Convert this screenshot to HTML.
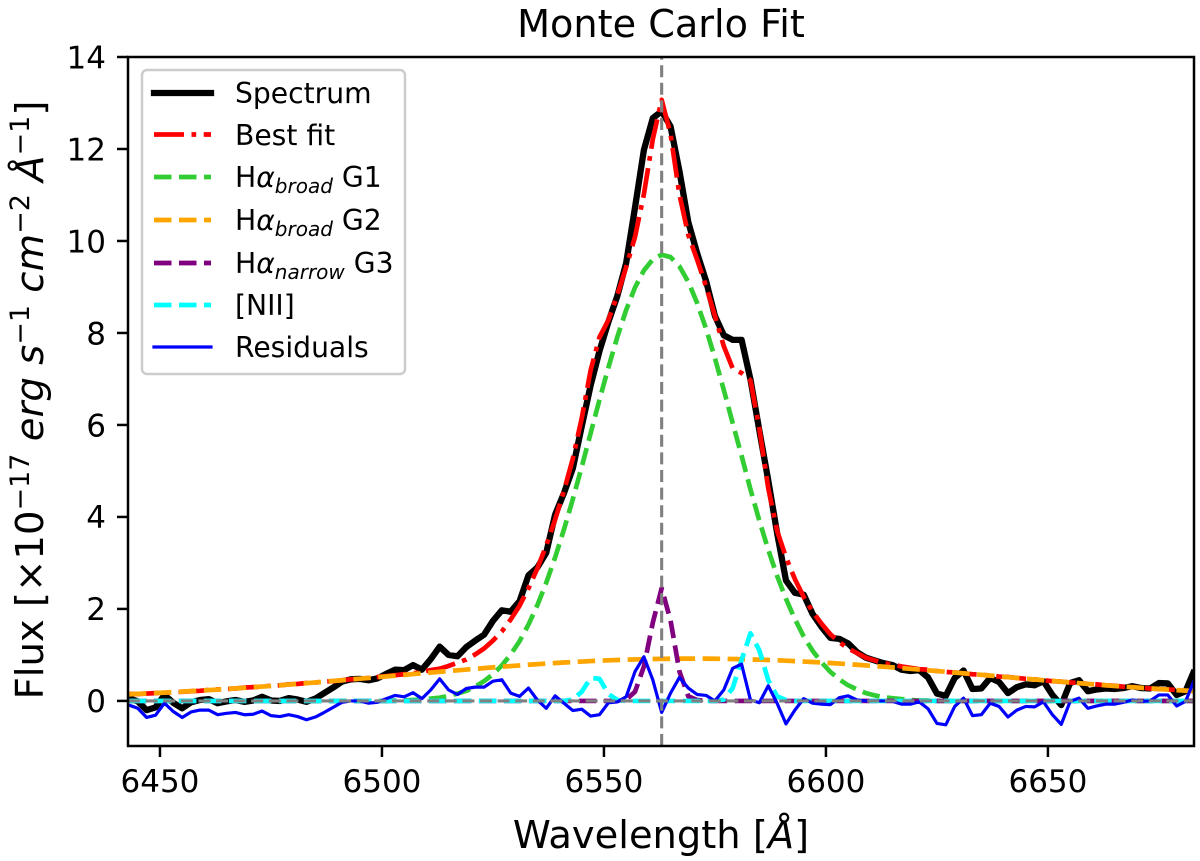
<!DOCTYPE html>
<html>
<head>
<meta charset="utf-8">
<title>Monte Carlo Fit</title>
<style>
html,body{margin:0;padding:0;background:#fff;}
svg{display:block;font-family:"DejaVu Sans","Liberation Sans",sans-serif;}
</style>
</head>
<body>
<svg id="chart" width="1200" height="861" viewBox="0 0 1200 861" xmlns="http://www.w3.org/2000/svg">
  <rect x="0" y="0" width="1200" height="861" fill="#fff"/>
  <defs><clipPath id="plot-clip"><rect x="128" y="57" width="1066" height="689"/></clipPath></defs>
  <g id="marks" clip-path="url(#plot-clip)"></g>
  <g id="ticks"></g>
  <rect x="128" y="57" width="1066" height="689" fill="none" stroke="#000" stroke-width="2.5"/>

  <text x="661" y="37" font-size="38.2" text-anchor="middle">Monte Carlo Fit</text>
  <text x="661" y="848" font-size="38.4" text-anchor="middle">Wavelength [<tspan font-style="italic">Å</tspan>]</text>
  <text transform="translate(43,400) rotate(-90)" font-size="38.6" text-anchor="middle">Flux [×10<tspan font-size="27" dy="-14">−17</tspan><tspan dy="14" font-style="italic"> erg s</tspan><tspan font-size="27" dy="-14">−1</tspan><tspan dy="14" font-style="italic"> cm</tspan><tspan font-size="27" dy="-14">−2</tspan><tspan dy="14" font-style="italic"> Å</tspan><tspan font-size="27" dy="-14">−1</tspan><tspan dy="14">]</tspan></text>

  <g>
    <rect x="142" y="70" width="263" height="304" rx="5" ry="5" fill="#fff" fill-opacity="0.8" stroke="#ccc" stroke-width="2.5"/>
    <g>
      <line x1="154" x2="211" y1="93" y2="93" stroke="#000" stroke-width="6.3" stroke-linecap="square"/>
      <text x="235" y="103" font-size="28.2">Spectrum</text>
    </g>
    <g>
      <line x1="154" x2="211" y1="134.5" y2="134.5" stroke="#f00" stroke-width="4.7" stroke-dasharray="30 7.5 4.7 7.5"/>
      <text x="235" y="145" font-size="28.2">Best fit</text>
    </g>
    <g>
      <line x1="154" x2="211" y1="177" y2="177" stroke="#32cd32" stroke-width="4.7" stroke-dasharray="17.5 7.5"/>
      <text x="235" y="187" font-size="28.2">H<tspan font-style="italic">α</tspan><tspan font-style="italic" font-size="20" dy="6">broad</tspan><tspan dy="-6"> G1</tspan></text>
    </g>
    <g>
      <line x1="154" x2="211" y1="220" y2="220" stroke="#ffa500" stroke-width="4.7" stroke-dasharray="17.5 7.5"/>
      <text x="235" y="230" font-size="28.2">H<tspan font-style="italic">α</tspan><tspan font-style="italic" font-size="20" dy="6">broad</tspan><tspan dy="-6"> G2</tspan></text>
    </g>
    <g>
      <line x1="154" x2="211" y1="263" y2="263" stroke="#800080" stroke-width="4.7" stroke-dasharray="17.5 7.5"/>
      <text x="235" y="273" font-size="28.2">H<tspan font-style="italic">α</tspan><tspan font-style="italic" font-size="20" dy="6">narrow</tspan><tspan dy="-6"> G3</tspan></text>
    </g>
    <g>
      <line x1="154" x2="211" y1="305" y2="305" stroke="#0ff" stroke-width="4.7" stroke-dasharray="17.5 7.5"/>
      <text x="235" y="315" font-size="28.2">[NII]</text>
    </g>
    <g>
      <line x1="154" x2="211" y1="347" y2="347" stroke="#00f" stroke-width="3.2" stroke-linecap="square"/>
      <text x="235" y="357" font-size="28.2">Residuals</text>
    </g>
  </g>
</svg>

<script>
const wavelength = [
6443,6445,6447,6449,6451,6453,6455,6457,6459,6461,
6463,6465,6467,6469,6471,6473,6475,6477,6479,6481,
6483,6485,6487,6489,6491,6493,6495,6497,6499,6501,
6503,6505,6507,6509,6511,6513,6515,6517,6519,6521,
6523,6525,6527,6529,6531,6533,6535,6537,6539,6541,
6543,6545,6547,6549,6551,6553,6555,6557,6559,6561,
6563,6565,6567,6569,6571,6573,6575,6577,6579,6581,
6583,6585,6587,6589,6591,6593,6595,6597,6599,6601,
6603,6605,6607,6609,6611,6613,6615,6617,6619,6621,
6623,6625,6627,6629,6631,6633,6635,6637,6639,6641,
6643,6645,6647,6649,6651,6653,6655,6657,6659,6661,
6663,6665,6667,6669,6671,6673,6675,6677,6679,6681,
6683];
const spectrum = [
.06,-.01,-.20,-.14,.13,-.04,-.16,-.03,.02,.04,
-.05,-.01,.02,-.02,.01,.09,.01,0,.06,.03,
-.02,.05,.17,.29,.42,.47,.48,.45,.49,.59,
.68,.67,.78,.68,.91,1.18,1.00,.97,1.17,1.31,
1.44,1.74,1.97,1.94,2.17,2.73,2.90,3.22,4.05,4.52,
5.06,5.97,6.86,7.61,8.24,8.80,9.52,10.73,11.98,12.67,
12.82,12.49,11.52,10.41,9.73,9.13,8.37,7.95,7.85,7.85,
6.99,5.88,4.80,3.65,2.62,2.35,2.31,1.89,1.61,1.37,
1.35,1.25,1.06,.94,.88,.82,.78,.68,.65,.67,
.51,.16,.11,.50,.66,.26,.27,.50,.41,.17,
.30,.36,.34,.43,.13,-.09,.39,.45,.21,.25,
.27,.26,.28,.32,.28,.27,.39,.38,.13,.21,
.67];
const bestFit = [
.15,.15,.16,.17,.18,.19,.20,.21,.22,.24,
.25,.26,.27,.29,.30,.31,.33,.34,.36,.37,
.39,.40,.42,.43,.45,.47,.48,.50,.52,.54,
.56,.58,.60,.63,.67,.70,.76,.83,.90,1.01,
1.14,1.31,1.51,1.77,2.07,2.45,2.88,3.38,3.94,4.57,
5.27,6.15,7.19,7.91,8.28,8.82,9.43,10.09,11.02,12.21,
13.07,12.32,11.01,10.13,9.59,9.01,8.37,7.71,7.23,7.13,
6.97,5.92,4.63,3.70,3.12,2.65,2.26,1.94,1.68,1.45,
1.28,1.14,1.04,.94,.88,.82,.79,.75,.72,.69,
.68,.65,.63,.62,.60,.58,.57,.55,.53,.52,
.50,.48,.47,.45,.43,.42,.40,.39,.37,.36,
.34,.33,.31,.30,.29,.27,.26,.25,.24,.22,
.21];
const broadG1 = [
0,0,0,0,0,0,0,0,0,0,
0,0,0,0,0,0,0,0,0,0,
0,0,0,0,0,0,0,0,0,0,
.01,.01,.02,.03,.05,.07,.11,.16,.22,.31,
.43,.58,.77,1.01,1.30,1.66,2.08,2.57,3.12,3.73,
4.39,5.09,5.82,6.55,7.25,7.91,8.50,8.99,9.36,9.60,
9.70,9.65,9.45,9.11,8.65,8.09,7.45,6.76,6.04,5.33,
4.60,3.92,3.29,2.72,2.22,1.78,1.40,1.09,.84,.63,
.47,.34,.25,.17,.12,.08,.06,.04,.02,.01,
.01,0,0,0,0,0,0,0,0,0,
0,0,0,0,0,0,0,0,0,0,
0,0,0,0,0,0,0,0,0,0,
0];
const broadG2 = [
.145,.153,.162,.171,.181,.191,.202,.213,.224,.235,
.247,.259,.272,.285,.299,.312,.326,.341,.356,.371,
.386,.402,.418,.434,.450,.466,.483,.499,.516,.533,
.550,.567,.584,.600,.617,.634,.650,.666,.682,.698,
.713,.729,.744,.758,.772,.786,.799,.812,.824,.835,
.846,.856,.866,.875,.883,.890,.897,.902,.907,.911,
.915,.917,.919,.920,.920,.919,.917,.915,.911,.907,
.902,.897,.890,.883,.875,.866,.856,.846,.835,.824,
.812,.799,.786,.772,.758,.744,.729,.713,.698,.682,
.666,.650,.634,.617,.600,.584,.567,.550,.533,.516,
.499,.483,.466,.450,.434,.418,.402,.386,.371,.356,
.341,.326,.312,.299,.285,.272,.259,.247,.235,.224,
.213];
const narrowG3 = [
0,0,0,0,0,0,0,0,0,0,
0,0,0,0,0,0,0,0,0,0,
0,0,0,0,0,0,0,0,0,0,
0,0,0,0,0,0,0,0,0,0,
0,0,0,0,0,0,0,0,0,0,
0,0,0,0,0,0,.03,.2,.75,1.7,
2.45,1.75,.64,.1,.02,0,0,0,0,0,
0,0,0,0,0,0,0,0,0,0,
0,0,0,0,0,0,0,0,0,0,
0,0,0,0,0,0,0,0,0,0,
0,0,0,0,0,0,0,0,0,0,
0,0,0,0,0,0,0,0,0,0,
0];
const nii = [
0,0,0,0,0,0,0,0,0,0,
0,0,0,0,0,0,0,0,0,0,
0,0,0,0,0,0,0,0,0,0,
0,0,0,0,0,0,0,0,0,0,
0,0,0,0,0,0,0,0,0,0,
.03,.2,.5,.48,.15,.02,0,0,0,0,
0,0,0,0,0,0,0,.03,.28,.89,
1.47,1.1,.45,.1,.02,0,0,0,0,0,
0,0,0,0,0,0,0,0,0,0,
0,0,0,0,0,0,0,0,0,0,
0,0,0,0,0,0,0,0,0,0,
0,0,0,0,0,0,0,0,0,0,
0];
const residuals = [
-.09,-.16,-.36,-.31,-.05,-.23,-.36,-.24,-.20,-.20,
-.30,-.27,-.25,-.30,-.29,-.22,-.32,-.34,-.30,-.34,
-.41,-.35,-.25,-.14,-.03,0,0,-.05,-.03,.05,
.12,.09,.18,.05,.24,.48,.24,.14,.27,.30,
.30,.43,.46,.17,.10,.28,.02,-.16,.11,-.05,
-.21,-.18,-.33,-.30,-.04,-.02,.09,.64,.96,.46,
-.25,.17,.51,.28,.14,.12,0,.24,.71,.80,
.02,-.04,.33,-.05,-.50,-.20,.05,-.05,-.07,-.08,
.07,.11,.02,0,0,0,-.01,-.07,-.07,-.02,
-.17,-.49,-.52,-.12,.06,-.32,-.30,-.05,-.12,-.35,
-.20,-.12,-.13,-.02,-.30,-.51,-.01,.06,-.16,-.11,
-.07,-.07,-.03,.02,-.01,0,.13,.13,-.11,-.01,
.46];
const xTickValues = [6450,6500,6550,6600,6650];
const yTickValues = [0,2,4,6,8,10,12,14];
const restWavelength = [6563];
const zeroLevel = [0];

const xDomain = [6442.8, 6682.9];
const yDomain = [-0.98, 14];
const plotBox = {left:128, right:1194, top:57, bottom:746};
const SVGNS = 'http://www.w3.org/2000/svg';

function xScale(w){
  return plotBox.left + (w - xDomain[0]) / (xDomain[1] - xDomain[0]) * (plotBox.right - plotBox.left);
}
function yScale(v){
  return plotBox.bottom - (v - yDomain[0]) / (yDomain[1] - yDomain[0]) * (plotBox.bottom - plotBox.top);
}
function pathFor(values){
  return values.map(function(v, i){
    return (i ? 'L' : 'M') + xScale(wavelength[i]).toFixed(2) + ' ' + yScale(v).toFixed(2);
  }).join('');
}

const marks = document.getElementById('marks');
const ticks = document.getElementById('ticks');

function drawSeries(name, values, color, width, dash){
  const p = document.createElementNS(SVGNS, 'path');
  
  
  p.setAttribute('d', pathFor(values));
  p.setAttribute('fill', 'none');
  p.setAttribute('stroke', color);
  p.setAttribute('stroke-width', width);
  p.setAttribute('stroke-linejoin', 'round');
  if (dash) p.setAttribute('stroke-dasharray', dash);
  marks.appendChild(p);
}

drawSeries('spectrum-line', spectrum, '#000', 6.3, '');
drawSeries('best-fit-line', bestFit, '#f00', 4.7, '30 7.5 4.7 7.5');
drawSeries('broad-g1-line', broadG1, '#32cd32', 4.7, '17.5 7.5');
drawSeries('broad-g2-line', broadG2, '#ffa500', 4.7, '17.5 7.5');
drawSeries('narrow-g3-line', narrowG3, '#800080', 4.7, '17.5 7.5');
drawSeries('nii-line', nii, '#0ff', 4.7, '17.5 7.5');
drawSeries('residuals-line', residuals, '#00f', 3.2, '');

restWavelength.forEach(function(w){
  const l = document.createElementNS(SVGNS, 'line');
  
  
  l.setAttribute('x1', xScale(w));
  l.setAttribute('x2', xScale(w));
  l.setAttribute('y1', plotBox.bottom);
  l.setAttribute('y2', plotBox.top);
  l.setAttribute('stroke', '#808080');
  l.setAttribute('stroke-width', 3.1);
  l.setAttribute('stroke-dasharray', '12 5.6');
  marks.appendChild(l);
});
zeroLevel.forEach(function(v){
  const l = document.createElementNS(SVGNS, 'line');
  
  
  l.setAttribute('x1', plotBox.left);
  l.setAttribute('x2', plotBox.right);
  l.setAttribute('y1', yScale(v));
  l.setAttribute('y2', yScale(v));
  l.setAttribute('stroke', '#808080');
  l.setAttribute('stroke-width', 3.1);
  l.setAttribute('stroke-dasharray', '12 5.6');
  marks.appendChild(l);
});

xTickValues.forEach(function(w){
  const x = xScale(w);
  const t = document.createElementNS(SVGNS, 'line');
  
  
  t.setAttribute('x1', x);
  t.setAttribute('x2', x);
  t.setAttribute('y1', plotBox.bottom);
  t.setAttribute('y2', plotBox.bottom + 11);
  t.setAttribute('stroke', '#000');
  t.setAttribute('stroke-width', 2.5);
  ticks.appendChild(t);
  const s = document.createElementNS(SVGNS, 'text');
  
  
  s.setAttribute('x', x);
  s.setAttribute('y', 792);
  s.setAttribute('font-size', 31);
  s.setAttribute('text-anchor', 'middle');
  s.textContent = String(w);
  ticks.appendChild(s);
});
yTickValues.forEach(function(v){
  const y = yScale(v);
  const t = document.createElementNS(SVGNS, 'line');
  
  
  t.setAttribute('x1', plotBox.left - 11);
  t.setAttribute('x2', plotBox.left);
  t.setAttribute('y1', y);
  t.setAttribute('y2', y);
  t.setAttribute('stroke', '#000');
  t.setAttribute('stroke-width', 2.5);
  ticks.appendChild(t);
  const s = document.createElementNS(SVGNS, 'text');
  
  
  s.setAttribute('x', 106);
  s.setAttribute('y', y + 11.3);
  s.setAttribute('font-size', 31);
  s.setAttribute('text-anchor', 'end');
  s.textContent = String(v);
  ticks.appendChild(s);
});
</script>
</body>
</html>
